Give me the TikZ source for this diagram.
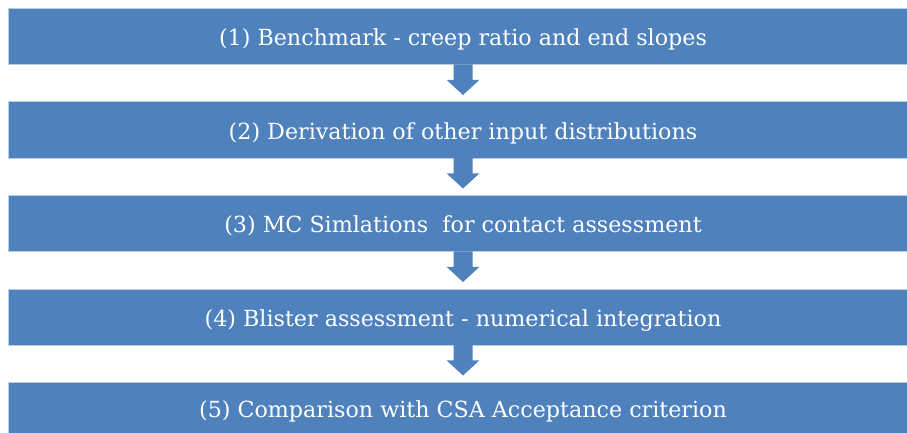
\documentclass[tikz,border=0pt]{standalone}
\usepackage{fontspec}
\setmainfont{DejaVu Serif}
\usetikzlibrary{calc}
\definecolor{flowblue}{HTML}{4F81BD}
\definecolor{flowedge}{HTML}{B9CDE5}
\tikzset{
  stagebox/.style={draw=flowedge, line width=0.8pt, fill=flowblue, text=white,
    minimum width=910pt, minimum height=56pt, inner sep=0pt,
    text height=19pt, text depth=0pt,
    font=\fontsize{22.2pt}{26pt}\selectfont, anchor=north},
  flowarrow/.style={fill=flowblue}
}
\begin{document}
\begin{tikzpicture}[x=1pt, y=-1pt]
  \useasboundingbox (0,0) rectangle (907,433);
  \clip (0,0) rectangle (907,433);
  \node[stagebox] (b1) at (463,8)     {(1) Benchmark - creep ratio and end slopes};
  \node[stagebox] (b2) at (463,101.5) {(2) Derivation of other input distributions};
  \node[stagebox] (b3) at (463,195)   {(3) MC Simlations\ \ for contact assessment};
  \node[stagebox] (b4) at (463,288.5) {(4) Blister assessment - numerical integration};
  \node[stagebox, minimum height=51pt] (b5) at (463,382) {(5) Comparison with CSA Acceptance criterion};
  % block arrows between consecutive stages
  \foreach \a/\b in {b1/b2, b2/b3, b3/b4, b4/b5} {
    \fill[flowarrow]
      ($(\a.south)+(-9.5pt,0.4pt)$) -- ($(\a.south)+(-9.5pt,-15pt)$)
      -- ($(\a.south)+(-16.5pt,-15pt)$) -- ($(\b.north)+(0,6.5pt)$)
      -- ($(\a.south)+(16.5pt,-15pt)$) -- ($(\a.south)+(9.5pt,-15pt)$)
      -- ($(\a.south)+(9.5pt,0.4pt)$) -- cycle;
  }
\end{tikzpicture}
\end{document}
